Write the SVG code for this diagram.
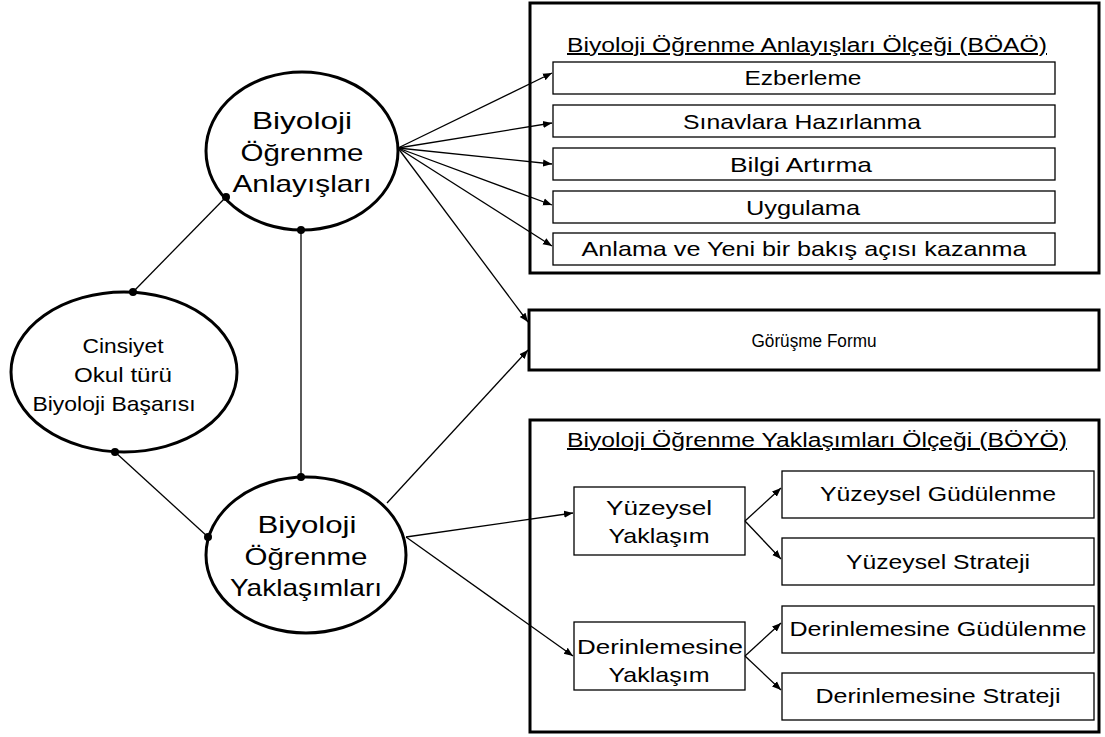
<svg xmlns="http://www.w3.org/2000/svg" width="1105" height="737" viewBox="0 0 1105 737">
<defs>
<marker id="ah" viewBox="0 0 10 10" refX="10" refY="5" markerWidth="9" markerHeight="9" markerUnits="userSpaceOnUse" orient="auto">
<path d="M0,1 L10,5 L0,9 z" fill="#000"/>
</marker>
<style>
text{font-family:"Liberation Sans",Arial,sans-serif;fill:#000;text-anchor:middle}
.big{font-size:24px}
.t{font-size:21px}
.ti{font-size:20px}
.g{font-size:18px}
.ell{fill:#fff;stroke:#000;stroke-width:3}
.outer{fill:#fff;stroke:#000;stroke-width:3}
.box{fill:#fff;stroke:#000;stroke-width:1.3}
.ln{stroke:#000;stroke-width:1.3;fill:none}
.ar{stroke:#000;stroke-width:1.3;fill:none;marker-end:url(#ah)}
.dot{fill:#000}
</style>
</defs>
<rect width="1105" height="737" fill="#fff"/>

<g id="boao">
<rect class="outer" x="530" y="3" width="569" height="270"/>
<text class="ti" x="807" y="52" text-decoration="underline" textLength="480" lengthAdjust="spacingAndGlyphs">Biyoloji Öğrenme Anlayışları Ölçeği (BÖAÖ)</text>
</g>
<g id="ezberleme"><rect class="box" x="553" y="62" width="502" height="32"/><text class="t" x="803" y="85" textLength="117" lengthAdjust="spacingAndGlyphs">Ezberleme</text></g>
<g id="sinavlara"><rect class="box" x="553" y="105" width="502" height="32"/><text class="t" x="802" y="129" textLength="238" lengthAdjust="spacingAndGlyphs">Sınavlara Hazırlanma</text></g>
<g id="bilgi"><rect class="box" x="553" y="148" width="502" height="32"/><text class="t" x="801" y="172" textLength="142" lengthAdjust="spacingAndGlyphs">Bilgi Artırma</text></g>
<g id="uygulama"><rect class="box" x="553" y="191" width="502" height="32"/><text class="t" x="803" y="215" textLength="114" lengthAdjust="spacingAndGlyphs">Uygulama</text></g>
<g id="anlama"><rect class="box" x="553" y="233" width="502" height="32"/><text class="t" x="804" y="256" textLength="445" lengthAdjust="spacingAndGlyphs">Anlama ve Yeni bir bakış açısı kazanma</text></g>

<g id="gorusme">
<rect class="outer" x="529" y="310" width="570" height="60"/>
<text class="g" x="814" y="347" textLength="125" lengthAdjust="spacingAndGlyphs">Görüşme Formu</text>
</g>

<g id="boyo">
<rect class="outer" x="530" y="420" width="569" height="312"/>
<text class="ti" x="817" y="447" text-decoration="underline" textLength="500" lengthAdjust="spacingAndGlyphs">Biyoloji Öğrenme Yaklaşımları Ölçeği (BÖYÖ)</text>
</g>
<g id="yuzeysel"><rect class="box" x="574" y="487" width="171" height="68"/><text class="t" x="659" y="515" textLength="106" lengthAdjust="spacingAndGlyphs">Yüzeysel</text><text class="t" x="659" y="543" textLength="101" lengthAdjust="spacingAndGlyphs">Yaklaşım</text></g>
<g id="derin"><rect class="box" x="574" y="622" width="171" height="68"/><text class="t" x="660" y="654" textLength="166" lengthAdjust="spacingAndGlyphs">Derinlemesine</text><text class="t" x="659" y="682" textLength="101" lengthAdjust="spacingAndGlyphs">Yaklaşım</text></g>
<g id="yguds"><rect class="box" x="782" y="471" width="312" height="47"/><text class="t" x="938" y="501" textLength="236" lengthAdjust="spacingAndGlyphs">Yüzeysel Güdülenme</text></g>
<g id="ystrat"><rect class="box" x="782" y="538" width="312" height="47"/><text class="t" x="938" y="569" textLength="184" lengthAdjust="spacingAndGlyphs">Yüzeysel Strateji</text></g>
<g id="dguds"><rect class="box" x="782" y="606" width="312" height="47"/><text class="t" x="938" y="636" textLength="297" lengthAdjust="spacingAndGlyphs">Derinlemesine Güdülenme</text></g>
<g id="dstrat"><rect class="box" x="782" y="673" width="312" height="47"/><text class="t" x="938" y="703" textLength="245" lengthAdjust="spacingAndGlyphs">Derinlemesine Strateji</text></g>

<g id="connectors">
<line class="ln" x1="226" y1="197" x2="133" y2="292"/>
<line class="ln" x1="301" y1="230" x2="301" y2="477"/>
<line class="ln" x1="115" y1="452" x2="208" y2="537"/>
<line class="ar" x1="398" y1="148" x2="552" y2="73"/>
<line class="ar" x1="398" y1="148" x2="552" y2="123"/>
<line class="ar" x1="398" y1="148" x2="552" y2="164"/>
<line class="ar" x1="398" y1="148" x2="552" y2="205"/>
<line class="ar" x1="398" y1="148" x2="552" y2="246"/>
<line class="ar" x1="398" y1="148" x2="528" y2="322"/>
<line class="ar" x1="387" y1="503" x2="528" y2="350"/>
<line class="ar" x1="406" y1="537" x2="573" y2="513"/>
<line class="ar" x1="406" y1="537" x2="573" y2="656"/>
<line class="ar" x1="745" y1="521" x2="781" y2="488"/>
<line class="ar" x1="745" y1="521" x2="781" y2="559"/>
<line class="ar" x1="745" y1="656" x2="781" y2="623"/>
<line class="ar" x1="745" y1="656" x2="781" y2="690"/>
</g>

<g id="anlayislar">
<ellipse class="ell" cx="302" cy="151" rx="96" ry="79"/>
<text class="big" x="302" y="129" textLength="100" lengthAdjust="spacingAndGlyphs">Biyoloji</text>
<text class="big" x="302" y="161" textLength="123" lengthAdjust="spacingAndGlyphs">Öğrenme</text>
<text class="big" x="302" y="192" textLength="139" lengthAdjust="spacingAndGlyphs">Anlayışları</text>
</g>
<g id="cinsiyet">
<ellipse class="ell" cx="124" cy="372" rx="113" ry="80"/>
<text class="t" x="123" y="353" textLength="81" lengthAdjust="spacingAndGlyphs">Cinsiyet</text>
<text class="t" x="123" y="382" textLength="98" lengthAdjust="spacingAndGlyphs">Okul türü</text>
<text class="t" x="114" y="411" textLength="163" lengthAdjust="spacingAndGlyphs">Biyoloji Başarısı</text>
</g>
<g id="yaklasimlar">
<ellipse class="ell" cx="306" cy="555" rx="100" ry="78"/>
<text class="big" x="307" y="533" textLength="99" lengthAdjust="spacingAndGlyphs">Biyoloji</text>
<text class="big" x="306" y="565" textLength="123" lengthAdjust="spacingAndGlyphs">Öğrenme</text>
<text class="big" x="306" y="596" textLength="152" lengthAdjust="spacingAndGlyphs">Yaklaşımları</text>
</g>
<g id="dots">
<circle class="dot" cx="226" cy="197" r="4"/>
<circle class="dot" cx="133" cy="292" r="4"/>
<circle class="dot" cx="301" cy="230" r="4"/>
<circle class="dot" cx="301" cy="477" r="4"/>
<circle class="dot" cx="115" cy="452" r="4"/>
<circle class="dot" cx="208" cy="537" r="4"/>
</g>
</svg>
